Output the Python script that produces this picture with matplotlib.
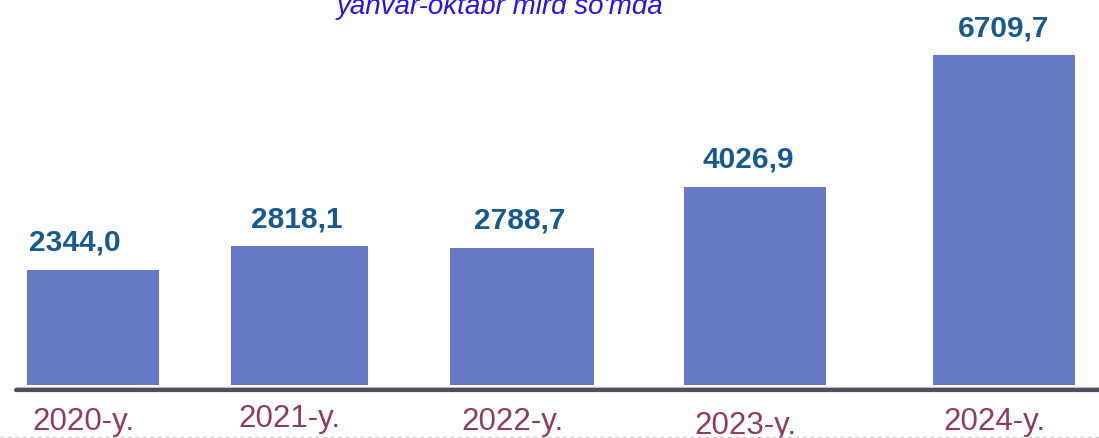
import numpy as np
import matplotlib.pyplot as plt
from matplotlib import font_manager

years = ["2020-y.", "2021-y.", "2022-y.", "2023-y.", "2024-y."]
values = [2344.0, 2818.1, 2788.7, 4026.9, 6709.7]
value_labels = ["2344,0", "2818,1", "2788,7", "4026,9", "6709,7"]
subtitle = "yanvar-oktabr mlrd so'mda"

# slot layout (in bar-step units) and bar widths
xpos = [0.0, 0.907, 1.882, 2.904, 3.996]
widths = [0.58, 0.60, 0.63, 0.62, 0.62]
lab_dx = [-18, -3, -2, -7, 0]       # value label shift, px
cat_dy = [0, 3, 0, -4, 0]           # year label shift, px

names = {f.name for f in font_manager.fontManager.ttflist}
narrow = "Liberation Sans Narrow" in names
num_font = "Liberation Sans Narrow" if narrow else "Liberation Sans"
num_size = 23.5 if narrow else 21.5

W, H = 1099, 439
fig = plt.figure(figsize=(W / 100, H / 100), dpi=100)
ax = fig.add_axes([0, 53 / H, 1, 386 / H])
ax.set_xlim(-93 / 228, (W - 93) / 228)
ax.set_ylim(0, 7850)
ax.axis("off")

ax.bar(xpos, values, width=widths, color="#6779c4", zorder=2)

pt = 72 / 100  # points per pixel
for x, v, lab, dx in zip(xpos, values, value_labels, lab_dx):
    ax.annotate(lab, (x, v), xytext=(dx * pt, 20 * pt), textcoords="offset points",
                ha="center", va="baseline", fontsize=num_size, fontweight="bold",
                family=num_font, color="#185a8c")

for x, yr, dy in zip(xpos, years, cat_dy):
    ax.annotate(yr, (x, 0), xytext=(-10 * pt, (-44 + dy) * pt), textcoords="offset points",
                ha="center", va="baseline", fontsize=22.5, family="Liberation Sans",
                color="#8c3d65", annotation_clip=False)

# baseline rule with light edge and dotted footer
ax.plot([16 / W, 1], [-2 / 386] * 2, transform=ax.transAxes, clip_on=False,
        color="#c4c4c8", lw=0.8, zorder=3)
ax.plot([16 / W, 1], [-5 / 386] * 2, transform=ax.transAxes, clip_on=False,
        color="#4d4f5e", lw=3.0, solid_capstyle="round", zorder=4)
fig.add_artist(plt.Line2D([0, 1], [1 / H, 1 / H], color="#c8c8c8", lw=0.9,
                          linestyle=(0, (3, 3))))

fig.text(500 / W, 1 - 14 / H, subtitle, ha="center", va="baseline", fontsize=20,
         style="italic", family="Liberation Sans", color="#2814e6")

fig.savefig("out.png", dpi=100)
